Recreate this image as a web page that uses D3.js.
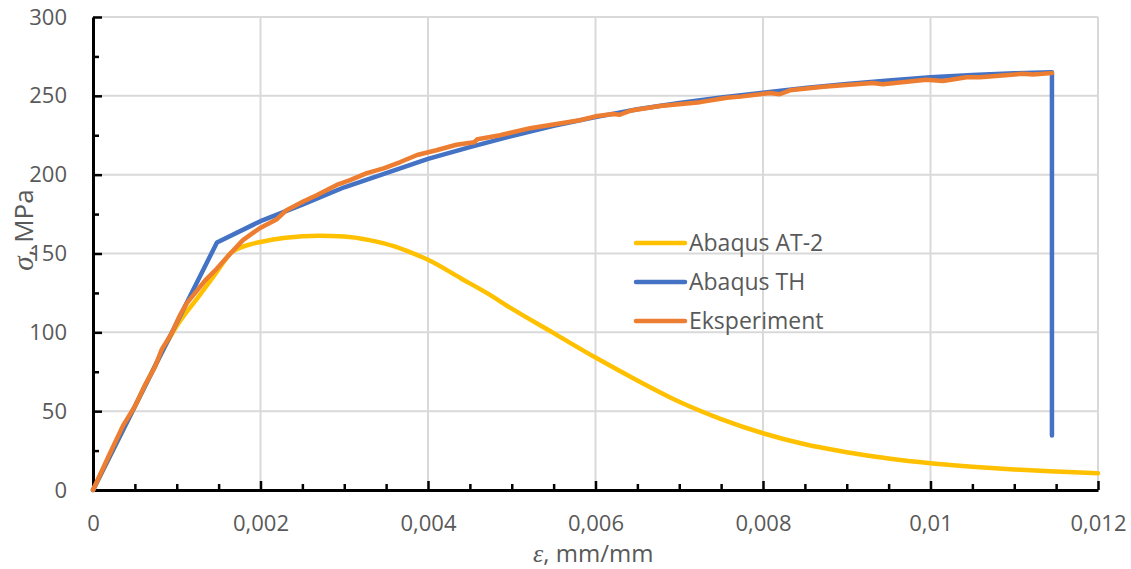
<!DOCTYPE html>
<html>
<head>
<meta charset="utf-8">
<script src="https://cdn.jsdelivr.net/npm/d3@7/dist/d3.min.js"></script>
<style>
  body { margin: 0; background: #fff; }
  text { font-family: "Open Sans", sans-serif; fill: #595959; }
  .axis path, .axis line { stroke: #000; }
  .axis text { font-size: 22px; fill: #595959; }
  .grid line { stroke: #d9d9d9; stroke-width: 2; }
  .series { fill: none; stroke-width: 4.5; stroke-linejoin: round; stroke-linecap: round; }
</style>
</head>
<body>
<div id="chart"></div>
<script>
// axis ticks
const strainTicks = [0, 0.002, 0.004, 0.006, 0.008, 0.01, 0.012];
const strainMinorTicks = [0.0005, 0.001, 0.0015, 0.0025, 0.003, 0.0035, 0.0045, 0.005, 0.0055,
  0.0065, 0.007, 0.0075, 0.0085, 0.009, 0.0095, 0.0105, 0.011, 0.0115];
const stressTicks = [0, 50, 100, 150, 200, 250, 300];
const stressMinorTicks = [25, 75, 125, 175, 225, 275];

const seriesNames = ['Abaqus AT-2', 'Abaqus TH', 'Eksperiment'];
const seriesColors = ['#FFC000', '#4472C4', '#ED7D31'];

// [strain, stress in MPa]
const at2Points = [
  [0, 0], [0.0005, 53], [0.001, 104], [0.00128, 124], [0.00148, 138.5], [0.00164, 150],
  [0.0018, 154.5], [0.002, 157.3], [0.0023, 160], [0.0027, 161.2], [0.003, 160.8],
  [0.0033, 158.5], [0.0036, 154.5], [0.0038, 150.5], [0.004, 146], [0.0044, 134],
  [0.0047, 125], [0.005, 115], [0.0055, 99.5], [0.006, 84], [0.0065, 69.5], [0.007, 56],
  [0.0075, 45], [0.008, 36], [0.0085, 29], [0.009, 24], [0.0095, 20], [0.01, 17],
  [0.0105, 14.8], [0.011, 13], [0.0115, 11.7], [0.012, 10.6]
];

const thPoints = [
  [0, 0], [0.00148, 157], [0.002, 170.5], [0.0025, 181], [0.003, 192], [0.0035, 201],
  [0.004, 210], [0.0045, 217.5], [0.005, 224.5], [0.0055, 231], [0.006, 236.5],
  [0.0065, 241.5], [0.007, 245.5], [0.0075, 249], [0.008, 252], [0.0085, 255],
  [0.009, 257.5], [0.0095, 259.8], [0.01, 261.8], [0.0105, 263.2], [0.011, 264.3],
  [0.01145, 265], [0.01145, 34.5]
];

const experimentPoints = [
  [0, 0], [0.0002, 23], [0.00036, 41], [0.0005, 53], [0.00062, 66.5], [0.00074, 78],
  [0.00082, 89], [0.00094, 99.5], [0.00104, 111], [0.00112, 118.5], [0.00122, 125],
  [0.00134, 133], [0.00148, 140.5], [0.00164, 150], [0.00179, 158.5], [0.00199, 166],
  [0.00219, 171.5], [0.00231, 177.5], [0.00251, 183], [0.00267, 187], [0.00291, 193.5],
  [0.00307, 196.5], [0.00327, 201], [0.00347, 204], [0.00367, 208], [0.00387, 212.5],
  [0.0041, 215.5], [0.00434, 219], [0.00455, 220.5], [0.00459, 222.5], [0.00486, 225],
  [0.00522, 229.5], [0.00581, 234.5], [0.006, 237], [0.00621, 238.5], [0.00629, 238],
  [0.00641, 240.5], [0.00677, 243.5], [0.00725, 246], [0.00757, 248.8], [0.00773, 249.5],
  [0.00808, 251.8], [0.0082, 251], [0.00832, 253.5], [0.00872, 255.7], [0.00931, 258.2],
  [0.00943, 257.4], [0.00995, 260.2], [0.01015, 259.4], [0.01043, 261.8], [0.01059, 261.8],
  [0.01111, 264], [0.01122, 263.5], [0.01145, 264.4]
];

const width = 1131;
const height = 569;
const plot = { left: 93, right: 1098, top: 17, bottom: 490 };

const svg = d3.select('#chart')
  .append('svg')
  .attr('width', width)
  .attr('height', height);

const x = d3.scaleLinear().domain([0, 0.012]).range([plot.left, plot.right]);
const y = d3.scaleLinear().domain([0, 300]).range([plot.bottom, plot.top]);

const commaFormat = d => String(d).replace('.', ',');

// gridlines
const grid = svg.append('g').attr('class', 'grid');
grid.selectAll('.vgrid')
  .data(strainTicks.slice(1))
  .enter().append('line')
  .attr('x1', d => x(d)).attr('x2', d => x(d))
  .attr('y1', plot.top).attr('y2', plot.bottom);
grid.selectAll('.hgrid')
  .data(stressTicks.slice(1))
  .enter().append('line')
  .attr('x1', plot.left).attr('x2', plot.right)
  .attr('y1', d => y(d)).attr('y2', d => y(d));

// minor ticks
svg.append('g')
  .attr('class', 'axis minor')
  .attr('transform', `translate(0,${plot.bottom})`)
  .call(d3.axisBottom(x).tickValues(strainMinorTicks).tickSizeInner(-6).tickSizeOuter(0).tickFormat(''))
  .call(g => g.select('.domain').remove())
  .selectAll('line').attr('stroke-width', 2.5);

svg.append('g')
  .attr('class', 'axis minor')
  .attr('transform', `translate(${plot.left},0)`)
  .call(d3.axisLeft(y).tickValues(stressMinorTicks).tickSizeInner(-6).tickSizeOuter(0).tickFormat(''))
  .call(g => g.select('.domain').remove())
  .selectAll('line').attr('stroke-width', 2.5);

// main axes
const xAxis = svg.append('g')
  .attr('class', 'axis')
  .attr('transform', `translate(0,${plot.bottom})`)
  .call(d3.axisBottom(x).tickValues(strainTicks).tickSizeInner(-9).tickSizeOuter(0)
    .tickPadding(25).tickFormat(commaFormat));
xAxis.select('.domain').attr('stroke-width', 3);
xAxis.selectAll('line').attr('stroke-width', 2.5);

const yAxis = svg.append('g')
  .attr('class', 'axis')
  .attr('transform', `translate(${plot.left},0)`)
  .call(d3.axisLeft(y).tickValues(stressTicks).tickSizeInner(-9).tickSizeOuter(0)
    .tickPadding(26));
yAxis.select('.domain').attr('stroke-width', 3);
yAxis.selectAll('line').attr('stroke-width', 2.5);

// series
const line = d3.line().x(d => x(d[0])).y(d => y(d[1]));
const smoothLine = d3.line().x(d => x(d[0])).y(d => y(d[1])).curve(d3.curveMonotoneX);

svg.append('path')
  .datum(at2Points)
  .attr('class', 'series')
  .attr('stroke', seriesColors[0])
  .attr('d', smoothLine);

svg.append('path')
  .datum(thPoints)
  .attr('class', 'series')
  .attr('stroke', seriesColors[1])
  .attr('d', line);

svg.append('path')
  .datum(experimentPoints)
  .attr('class', 'series')
  .attr('stroke', seriesColors[2])
  .attr('d', line);

// legend
const legend = svg.append('g')
  .attr('class', 'legend')
  .attr('transform', 'translate(636,243)');

const legendItem = legend.selectAll('g')
  .data(seriesNames)
  .enter().append('g')
  .attr('transform', (d, i) => `translate(0,${i * 39})`);

legendItem.append('line')
  .attr('x1', 0).attr('x2', 49)
  .attr('stroke', (d, i) => seriesColors[i])
  .attr('stroke-width', 4.5)
  .attr('stroke-linecap', 'round');

legendItem.append('text')
  .attr('x', 53)
  .attr('dy', '0.36em')
  .style('font-size', '23px')
  .text(d => d);

// axis titles
const xTitle = svg.append('text')
  .attr('x', 533)
  .attr('y', 562)
  .style('font-size', '24px');
xTitle.append('tspan')
  .style('font-family', '"Liberation Serif", serif')
  .style('font-style', 'italic')
  .style('font-size', '26px')
  .text('ε');
xTitle.append('tspan').text(', mm/mm');

const yTitle = svg.append('text')
  .attr('transform', 'translate(33,230) rotate(-90)')
  .attr('text-anchor', 'middle')
  .style('font-size', '26px');
yTitle.append('tspan')
  .style('font-family', '"Liberation Serif", serif')
  .style('font-style', 'italic')
  .style('font-size', '29px')
  .text('σ');
yTitle.append('tspan').text(', MPa');
</script>
</body>
</html>
